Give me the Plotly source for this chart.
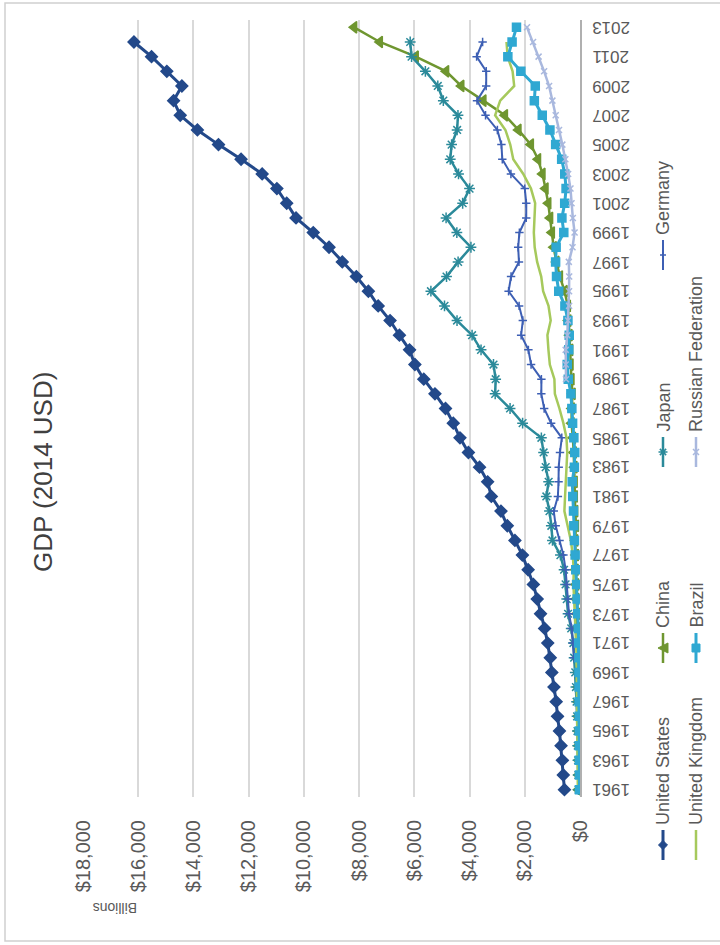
import plotly.graph_objects as go

# ---- data (billions of USD) -------------------------------------------
YEARS = list(range(1961, 2014))
YEAR_TICKS = list(range(1961, 2014, 2))
VALUE_TICKS = list(range(0, 18001, 2000))
VALUE_LABELS = ["$0", "$2,000", "$4,000", "$6,000", "$8,000", "$10,000",
                "$12,000", "$14,000", "$16,000", "$18,000"]

US = [563, 605, 639, 686, 744, 815, 862, 943, 1020, 1076,
      1168, 1282, 1429, 1549, 1689, 1878, 2086, 2357, 2632, 2863,
      3211, 3345, 3638, 4041, 4347, 4590, 4870, 5253, 5658, 5980,
      6174, 6539, 6879, 7309, 7664, 8100, 8609, 9089, 9661, 10285,
      10622, 10978, 11511, 12275, 13094, 13856, 14478, 14719, 14419, 14964,
      15518, 16155, None]
CHINA = [60, 50, 47, 51, 60, 70, 77, 73, 71, 80,
         92, 99, 112, 137, 142, 161, 152, 172, 148, 177,
         189, 194, 203, 229, 257, 307, 298, 270, 310, 344,
         357, 380, 423, 441, 559, 728, 856, 953, 1020, 1083,
         1150, 1250, 1360, 1520, 1780, 2230, 2720, 3500, 4300, 4850,
         5950, 7250, 8180]
JAPAN = [54, 61, 70, 82, 91, 106, 124, 147, 172, 213,
         240, 318, 432, 480, 522, 576, 709, 997, 1038, 1105,
         1219, 1135, 1243, 1318, 1399, 2078, 2533, 3072, 3055, 3133,
         3584, 3909, 4454, 4907, 5400, 4834, 4415, 3950, 4460, 4850,
         4250, 4000, 4400, 4700, 4650, 4450, 4420, 4950, 5150, 5600,
         6100, 6150, None]
GERMANY = [None, None, None, None, None, None, None, None, None, 216,
           250, 300, 398, 445, 491, 520, 601, 741, 881, 950,
           801, 777, 771, 725, 660, 1046, 1298, 1401, 1398, 1772,
           1869, 2132, 2071, 2205, 2586, 2497, 2211, 2239, 2195, 1947,
           1946, 2000, 2502, 2814, 2846, 2992, 3421, 3730, 3398, 3396,
           3744, 3527, None]
UK = [78, 81, 87, 94, 102, 108, 111, 105, 113, 125,
      141, 160, 178, 198, 238, 226, 261, 331, 438, 565,
      541, 515, 490, 462, 489, 602, 745, 910, 927, 1093,
      1143, 1180, 1061, 1141, 1335, 1405, 1552, 1641, 1672, 1648,
      1624, 1776, 2055, 2417, 2526, 2701, 3074, 2891, 2383, 2441,
      2620, 2662, None]
BRAZIL = [17, 19, 23, 21, 22, 27, 30, 33, 37, 42,
          49, 58, 83, 105, 123, 153, 176, 201, 224, 235,
          263, 281, 203, 189, 222, 268, 295, 330, 425, 462,
          407, 390, 437, 546, 770, 850, 883, 864, 587, 655,
          554, 504, 552, 664, 882, 1089, 1367, 1654, 1620, 2143,
          2613, 2460, 2300]
RUSSIA = [None, None, None, None, None, None, None, None, None, None,
          None, None, None, None, None, None, None, None, None, None,
          None, None, None, None, None, None, None, None, 507, 517,
          518, 460, 435, 395, 396, 392, 405, 271, 196, 260,
          307, 345, 430, 530, 640, 760, 880, 1000, 1120, 1300,
          1500, 1700, 1920]

SERIES = [
    # name, values, colour, line width, marker symbol, marker size
    ("United States", US, "#23498a", 3, "diamond", 9),
    ("China", CHINA, "#6f9630", 2.5, "triangle-left", 10),
    ("Japan", JAPAN, "#2b8a9a", 2.5, "asterisk-open", 9),
    ("Germany", GERMANY, "#3d5fb4", 2, "cross-thin-open", 6),
    ("United Kingdom", UK, "#a6c95c", 2.5, None, 0),
    ("Brazil", BRAZIL, "#2fa8d2", 3, "square", 8),
    ("Russian Federation", RUSSIA, "#a9b8de", 2.5, "x-thin-open", 6),
]

# ---- page geometry (pixels) ---------------------------------------------
FIG_W, FIG_H = 720, 945
PL, PR, PT, PB = 83, 580, 20, 797          # plot-area edges
TEXT = "#595959"
FONT = "Liberation Sans, Arial, sans-serif"


def px(x):
    return (x - PL) / (PR - PL)


def py(y):
    return (PB - y) / (PB - PT)


def poly(points):
    """Closed SVG path in paper units from pixel points."""
    return "M" + " L".join(f"{px(a):.5f},{py(b):.5f}" for a, b in points) + " Z"


def segs(pairs):
    """Open SVG path made of separate pixel segments."""
    return " ".join(f"M{px(a):.5f},{py(b):.5f} L{px(c):.5f},{py(d):.5f}"
                    for (a, b), (c, d) in pairs)


def legend_marker(sym, cx, cy, r, color):
    if sym == "diamond":
        return dict(path=poly([(cx, cy - r), (cx + r, cy), (cx, cy + r), (cx - r, cy)]),
                    fillcolor=color, line=dict(color=color, width=1))
    if sym == "triangle-left":
        return dict(path=poly([(cx - r, cy), (cx + r, cy - r), (cx + r, cy + r)]),
                    fillcolor=color, line=dict(color=color, width=1))
    if sym == "square":
        return dict(path=poly([(cx - r, cy - r), (cx + r, cy - r), (cx + r, cy + r),
                               (cx - r, cy + r)]),
                    fillcolor=color, line=dict(color=color, width=1))
    if sym == "asterisk-open":
        d = r * 0.7
        return dict(path=segs([((cx - r, cy), (cx + r, cy)), ((cx, cy - r), (cx, cy + r)),
                               ((cx - d, cy - d), (cx + d, cy + d)),
                               ((cx - d, cy + d), (cx + d, cy - d))]),
                    line=dict(color=color, width=1.5))
    if sym == "cross-thin-open":
        return dict(path=segs([((cx - r, cy), (cx + r, cy)), ((cx, cy - r), (cx, cy + r))]),
                    line=dict(color=color, width=1.5))
    if sym == "x-thin-open":
        return dict(path=segs([((cx - r, cy - r), (cx + r, cy + r)),
                               ((cx - r, cy + r), (cx + r, cy - r))]),
                    line=dict(color=color, width=1.5))
    return None


fig = go.Figure()

for name, vals, color, lw, sym, msz in SERIES:
    fig.add_trace(go.Scatter(
        x=vals, y=YEARS, name=name,
        mode="lines+markers" if sym else "lines",
        line=dict(color=color, width=lw),
        marker=dict(symbol=sym or "circle", size=msz, color=color,
                    line=dict(color=color, width=1.5)),
        connectgaps=False, showlegend=False,
    ))

shapes = [
    # chart border
    dict(type="rect", xref="paper", yref="paper",
         x0=px(5), x1=px(740), y0=py(941), y1=py(3),
         line=dict(color="#d0d0d0", width=1.5), fillcolor="rgba(0,0,0,0)",
         layer="below"),
]
annotations = []

# year labels (upside down, right of the category axis)
for yr in YEAR_TICKS:
    annotations.append(dict(
        x=px(611), xref="paper", y=yr, yref="y", text=str(yr),
        showarrow=False, textangle=180, xanchor="center", yanchor="middle",
        font=dict(family=FONT, size=17, color=TEXT)))

# chart title
annotations.append(dict(
    x=px(43), y=py(472), xref="paper", yref="paper", text="GDP (2014 USD)",
    showarrow=False, textangle=-90, xanchor="center", yanchor="middle",
    font=dict(family=FONT, size=26, color="#404040")))

# display-unit label
annotations.append(dict(
    x=px(115), y=py(908), xref="paper", yref="paper", text="Billions",
    showarrow=False, textangle=180, xanchor="center", yanchor="middle",
    font=dict(family=FONT, size=14, color=TEXT)))

# legend drawn sideways
LEGEND_POS = {
    "United States": (663, 845), "China": (663, 648),
    "Japan": (663, 452), "Germany": (663, 255),
    "United Kingdom": (696, 845), "Brazil": (696, 648),
    "Russian Federation": (696, 452),
}
for name, vals, color, lw, sym, msz in SERIES:
    cx, cy = LEGEND_POS[name]
    shapes.append(dict(type="line", xref="paper", yref="paper",
                       x0=px(cx), x1=px(cx), y0=py(cy + 15), y1=py(cy - 15),
                       line=dict(color=color, width=lw)))
    mk = legend_marker(sym, cx, cy, msz / 2, color)
    if mk:
        mk.update(type="path", xref="paper", yref="paper")
        shapes.append(mk)
    annotations.append(dict(
        x=px(cx), y=py(cy - 18), xref="paper", yref="paper", text=name,
        showarrow=False, textangle=-90, xanchor="center", yanchor="bottom",
        font=dict(family=FONT, size=18, color=TEXT)))

fig.update_layout(
    width=FIG_W, height=FIG_H,
    margin=dict(l=PL, r=FIG_W - PR, t=PT, b=FIG_H - PB, pad=0),
    paper_bgcolor="white", plot_bgcolor="white",
    showlegend=False,
    xaxis=dict(range=[18000, 0], tickvals=VALUE_TICKS, ticktext=VALUE_LABELS,
               tickangle=-90, showgrid=True,
               gridcolor="#d9d9d9", gridwidth=1.5, zeroline=False,
               showline=False, ticks="", ticklabelstandoff=18,
               tickfont=dict(family=FONT, size=20, color=TEXT),
               automargin=False, fixedrange=True),
    yaxis=dict(range=[1960.5, 2013.5], side="right", showgrid=False,
               zeroline=False, showline=True, linecolor="#b0b0b0",
               linewidth=1.5, showticklabels=False, ticks="",
               automargin=False, fixedrange=True),
    shapes=shapes, annotations=annotations,
)

fig.write_html("out.html")
